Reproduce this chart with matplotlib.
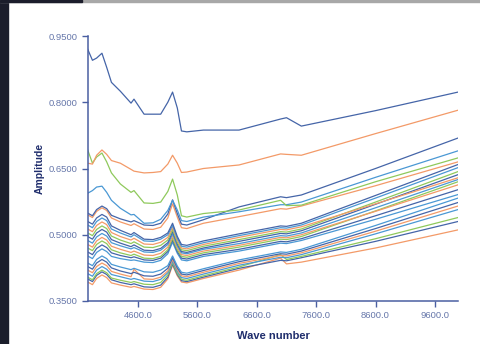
import matplotlib
matplotlib.use("Agg")
import matplotlib.pyplot as plt
from matplotlib.patches import Rectangle

wave = [3750, 3830, 3900, 3990, 4070, 4150, 4300, 4480, 4530, 4700, 4850, 4980,
        5100, 5180, 5260, 5330, 5420, 5700, 6300, 7000, 7100, 7350, 8600, 9990]

top_blue   = [.920, .895, .900, .911, .879, .845, .825, .798, .807, .773, .773, .773,
              .800, .823, .787, .735, .733, .737, .737, .762, .765, .746, .781, .823]
top_orange = [.662, .660, .680, .692, .682, .668, .662, .648, .644, .640, .641, .643,
              .660, .680, .662, .641, .642, .650, .658, .683, .682, .680, .729, .782]
high_green = [.692, .662, .676, .685, .665, .640, .615, .596, .600, .572, .571, .574,
              .598, .626, .590, .543, .540, .548, .556, .578, .566, .567, .620, .674]
high_blue  = [.594, .600, .608, .610, .596, .578, .560, .545, .546, .526, .527, .535,
              .555, .578, .556, .532, .530, .540, .552, .568, .568, .574, .630, .690]

# upper band
u1 = [.549, .543, .557, .565, .559, .544, .536, .529, .532, .522, .521, .526,
      .547, .579, .548, .524, .522, .534, .563, .586, .584, .590, .650, .719]
u2 = [.545, .539, .553, .561, .555, .538, .529, .521, .525, .513, .512, .517,
      .538, .570, .540, .516, .514, .526, .541, .559, .558, .565, .611, .665]
# middle band
m1 = [.530, .524, .538, .546, .540, .520, .510, .500, .505, .490, .489, .494,
      .504, .526, .496, .478, .476, .486, .502, .520, .519, .526, .589, .659]
m2 = [.522, .516, .530, .538, .532, .513, .504, .495, .500, .486, .485, .490,
      .500, .521, .492, .474, .472, .482, .498, .516, .515, .522, .583, .652]
m3 = [.513, .507, .521, .529, .523, .505, .496, .488, .492, .479, .478, .483,
      .494, .517, .488, .470, .468, .478, .494, .512, .511, .518, .570, .629]
m4 = [.504, .498, .512, .520, .514, .497, .488, .480, .484, .472, .471, .476,
      .488, .512, .483, .466, .464, .474, .489, .507, .506, .513, .574, .643]
m5 = [.496, .490, .504, .512, .506, .489, .481, .473, .477, .465, .464, .469,
      .482, .507, .479, .462, .460, .470, .485, .503, .502, .509, .569, .636]
m6 = [.487, .481, .495, .503, .497, .482, .475, .468, .471, .461, .460, .465,
      .478, .502, .475, .459, .457, .467, .480, .498, .497, .504, .561, .625]
m7 = [.478, .472, .486, .494, .488, .474, .467, .460, .463, .454, .453, .458,
      .472, .497, .471, .455, .453, .463, .476, .494, .493, .500, .553, .613]
m8 = [.470, .464, .478, .486, .480, .466, .459, .453, .456, .447, .446, .451,
      .466, .492, .466, .451, .449, .459, .472, .490, .489, .496, .554, .620]
m9 = [.461, .455, .469, .477, .471, .459, .453, .448, .450, .443, .442, .447,
      .462, .488, .462, .447, .445, .455, .467, .485, .484, .491, .543, .602]
m10 = [.452, .446, .460, .468, .462, .451, .446, .442, .443, .438, .437, .442,
       .457, .483, .458, .443, .441, .451, .463, .481, .480, .487, .535, .591]
# lower band
l1 = [.436, .430, .444, .452, .446, .433, .427, .421, .424, .416, .415, .420,
      .430, .452, .429, .415, .413, .423, .443, .461, .460, .467, .521, .583]
l2 = [.428, .422, .436, .444, .438, .425, .418, .412, .415, .407, .406, .411,
      .424, .448, .425, .411, .409, .419, .439, .457, .456, .463, .514, .573]
l3 = [.420, .414, .428, .436, .430, .417, .411, .405, .422, .400, .399, .404,
      .418, .444, .421, .407, .405, .415, .435, .453, .452, .459, .508, .565]
l4 = [.412, .406, .420, .428, .422, .410, .405, .399, .401, .395, .394, .399,
      .414, .440, .417, .403, .401, .411, .431, .449, .448, .455, .502, .557]
l5 = [.404, .398, .412, .420, .414, .402, .397, .392, .394, .388, .387, .392,
      .409, .437, .413, .399, .397, .407, .427, .455, .444, .451, .491, .539]
l6 = [.400, .394, .408, .416, .410, .398, .392, .387, .389, .382, .381, .386,
      .404, .434, .410, .396, .394, .404, .424, .442, .441, .448, .485, .530]
l7 = [.393, .387, .401, .409, .403, .391, .386, .381, .383, .377, .376, .381,
      .400, .431, .407, .393, .391, .401, .420, .447, .434, .438, .470, .511]

x_ticks = [4600, 5600, 6600, 7600, 8600, 9600]
y_ticks = [0.35, 0.50, 0.65, 0.80, 0.95]

DB = "#4565a8"
LB = "#4a98d4"
OR = "#f39a68"
GR = "#8fc95c"
AXC = "#4a5fa2"
TXT = "#6677aa"
NAVY = "#1f2d6c"

series = [(l7, OR), (l6, DB), (l5, GR), (l4, LB), (l3, OR), (l2, DB), (l1, LB),
          (m10, LB), (m9, DB), (m8, GR), (m7, OR), (m6, LB), (m5, DB),
          (m4, GR), (m3, OR), (m2, LB), (m1, DB),
          (u2, OR), (u1, DB), (high_blue, LB), (high_green, GR),
          (top_orange, OR), (top_blue, DB)]

fig = plt.figure(figsize=(4.81, 3.44), dpi=100)
fig.patch.set_facecolor("white")
# screenshot border bits
fig.patches.append(Rectangle((0, 0), 8 / 481, 1, transform=fig.transFigure,
                             color="#1b1d2b", zorder=0))
fig.patches.append(Rectangle((0, 1 - 2 / 344), 1, 2 / 344, transform=fig.transFigure,
                             color="#a8a8a8", zorder=0))
fig.patches.append(Rectangle((0, 1 - 2 / 344), 82 / 481, 2 / 344, transform=fig.transFigure,
                             color="#1b1d2b", zorder=0))

ax = fig.add_axes([88 / 481, 43 / 344, 370 / 481, 265 / 344])
for vals, c in series:
    ax.plot(wave, vals, color=c, lw=0.9)

ax.set_xlim(3755, 9990)
ax.set_ylim(0.35, 0.95)
ax.set_xticks(x_ticks)
ax.set_xticklabels(["%.1f" % v for v in x_ticks])
ax.set_yticks(y_ticks)
ax.set_yticklabels(["%.4f" % v for v in y_ticks])

for s in ["top", "right"]:
    ax.spines[s].set_visible(False)
for s in ["left", "bottom"]:
    ax.spines[s].set_color(AXC)
    ax.spines[s].set_linewidth(1.1)
ax.tick_params(colors=AXC, labelcolor=TXT, labelsize=6.8, length=4, width=1)
for lab in ax.get_xticklabels() + ax.get_yticklabels():
    lab.set_family("Liberation Sans")

ax.set_xlabel("Wave number", fontsize=8, fontweight="bold", color=NAVY,
              family=["Liberation Sans Narrow", "Liberation Sans"])
ax.xaxis.set_label_coords(0.5, -0.115)
ax.set_ylabel("Amplitude", fontsize=7.5, fontweight="bold", color=NAVY,
              family=["Liberation Sans Narrow", "Liberation Sans"])
ax.yaxis.set_label_coords(-0.118, 0.5)

fig.savefig("out.png", dpi=100)
